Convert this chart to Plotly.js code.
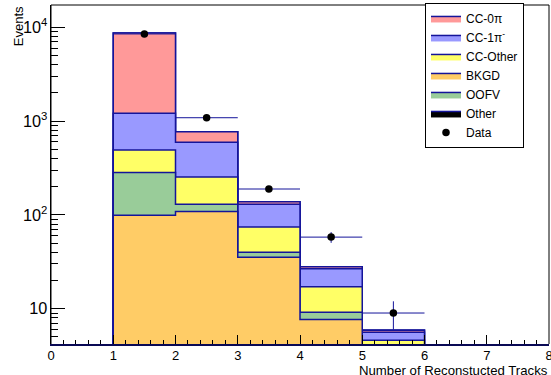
<!DOCTYPE html>
<html>
<head>
<meta charset="utf-8">
<script src="https://cdn.plot.ly/plotly-3.0.1.min.js"></script>
<style>
  html, body { margin: 0; padding: 0; background: #ffffff; }
  #chart { width: 551px; height: 375px; }
</style>
</head>
<body>
<div id="chart"></div>
<script>
// Bin edges of the reconstructed-track multiplicity histogram
const binEdges = [1, 2, 3, 4, 5, 6];
const binCenters = [1.5, 2.5, 3.5, 4.5, 5.5];

// Predicted events per bin, one array per sample (stacked bottom to top: BKGD, OOFV, CC-Other, CC-1pi, CC-0pi, Other)
const bkgd    = [99, 109, 35.3, 7.7, 3.0];
const oofv    = [185, 21, 4.6, 1.46, 0.4];
const ccOther = [208, 123, 34.4, 8.0, 1.2];
const cc1pi   = [719, 341, 55.7, 9.5, 1.0];
const cc0pi   = [7490, 177, 8.0, 1.3, 0.3];
const other   = [5, 1, 0.3, 0.1, 0.02];

// Observed data with statistical errors
const dataCounts = [8500, 1087, 189, 58, 9];
const dataErrors = [92, 33, 13.7, 7.6, 3.0];

const yRange = [0.624, 4.238];
const xRange = [0, 8];
const lineColor = '#14149a';
const font = 'Liberation Sans, Arial, Helvetica, sans-serif';

// Stack order from the bottom up, with legend rank
const samples = [
  { name: 'BKGD',  values: bkgd,    color: '#ffcc66', rank: 4 },
  { name: 'OOFV',  values: oofv,    color: '#99cc99', rank: 5 },
  { name: 'CC-Other', values: ccOther, color: '#ffff66', rank: 3 },
  { name: 'CC-1π<sup>-</sup>', values: cc1pi, color: '#9999ff', rank: 2 },
  { name: 'CC-0π', values: cc0pi,   color: '#ff9999', rank: 1 },
  { name: 'Other', values: other,   color: '#000000', rank: 6 }
];

// cumulative sums for the stack
let running = binCenters.map(() => 0);
samples.forEach(s => {
  running = running.map((v, i) => v + s.values[i]);
  s.cumulative = running.slice();
});

// step outline of a histogram, closed down to the lower edge of the plot
const floorVal = Math.pow(10, yRange[0]);
function stepPath(cum) {
  const last = binEdges.length - 1;
  const xs = [binEdges[0]].concat(binEdges, [binEdges[last]]);
  const ys = [floorVal].concat(cum, [cum[cum.length - 1], floorVal]);
  return { xs, ys };
}

const traces = [];
// draw the tallest layer first so lower layers paint over it
samples.slice().reverse().forEach(s => {
  const p = stepPath(s.cumulative);
  traces.push({
    type: 'scatter',
    mode: 'lines',
    name: s.name,
    x: p.xs,
    y: p.ys,
    line: { shape: 'hv', color: lineColor, width: 1.5 },
    fill: 'tozeroy',
    fillcolor: s.color,
    legendrank: s.rank,
    hoverinfo: 'skip'
  });
});

traces.push({
  type: 'scatter',
  mode: 'markers',
  name: 'Data',
  x: binCenters,
  y: dataCounts,
  marker: { color: '#000000', size: 7.5 },
  error_y: { type: 'data', array: dataErrors, color: lineColor, thickness: 1, width: 0 },
  error_x: { type: 'constant', value: 0.5, color: lineColor, thickness: 1, width: 0 },
  legendrank: 7
});

const layout = {
  width: 551,
  height: 375,
  margin: { l: 51, r: 2, t: 5, b: 31 },
  paper_bgcolor: '#ffffff',
  plot_bgcolor: '#ffffff',
  font: { family: font, size: 13, color: '#000000' },
  showlegend: true,
  xaxis: {
    range: xRange,
    tick0: 0,
    dtick: 1,
    ticks: 'inside',
    ticklen: 9,
    tickwidth: 1,
    tickcolor: '#000000',
    minor: { dtick: 0.2, ticks: 'inside', ticklen: 4.5, tickcolor: '#000000', showgrid: false },
    showline: true,
    linecolor: '#0a0a55',
    linewidth: 2,
    mirror: false,
    showgrid: false,
    zeroline: false,
    ticklabeloverflow: 'allow',
    ticklabelstandoff: -2,
    tickfont: { family: font, size: 13 }
  },
  yaxis: {
    type: 'log',
    range: yRange,
    dtick: 1,
    exponentformat: 'power',
    ticks: 'inside',
    ticklen: 14,
    tickwidth: 1,
    tickcolor: '#000000',
    minor: { dtick: 'D1', ticks: 'inside', ticklen: 7, tickcolor: '#000000', showgrid: false },
    showline: true,
    linecolor: '#000000',
    linewidth: 1,
    mirror: false,
    showgrid: false,
    zeroline: false,
    tickfont: { family: font, size: 13 }
  },
  // frame: left, top and right sides of the pad
  shapes: [
    {
      type: 'path',
      xref: 'paper', yref: 'paper',
      path: 'M0,0 L0,1 L1,1 L1,0',
      line: { color: '#000000', width: 1 },
      layer: 'above'
    }
  ],
  legend: {
    x: 0.751, y: 1.006,
    xanchor: 'left', yanchor: 'top',
    bgcolor: '#ffffff',
    bordercolor: '#000000',
    borderwidth: 1,
    font: { family: font, size: 12 },
    itemwidth: 30,
    tracegroupgap: 0
  },
  annotations: [
    {
      text: 'Number of Reconstucted Tracks',
      xref: 'paper', yref: 'paper',
      x: 1, y: -0.077,
      xanchor: 'right', yanchor: 'middle',
      borderpad: 0,
      showarrow: false,
      font: { family: font, size: 13.2 }
    },
    {
      text: 'Events',
      xref: 'paper', yref: 'paper',
      x: -0.066, y: 1,
      xanchor: 'center', yanchor: 'top',
      borderpad: 0,
      textangle: -90,
      showarrow: false,
      font: { family: font, size: 13 }
    }
  ]
};

Plotly.newPlot('chart', traces, layout, { staticPlot: true, displayModeBar: false });
</script>
</body>
</html>
